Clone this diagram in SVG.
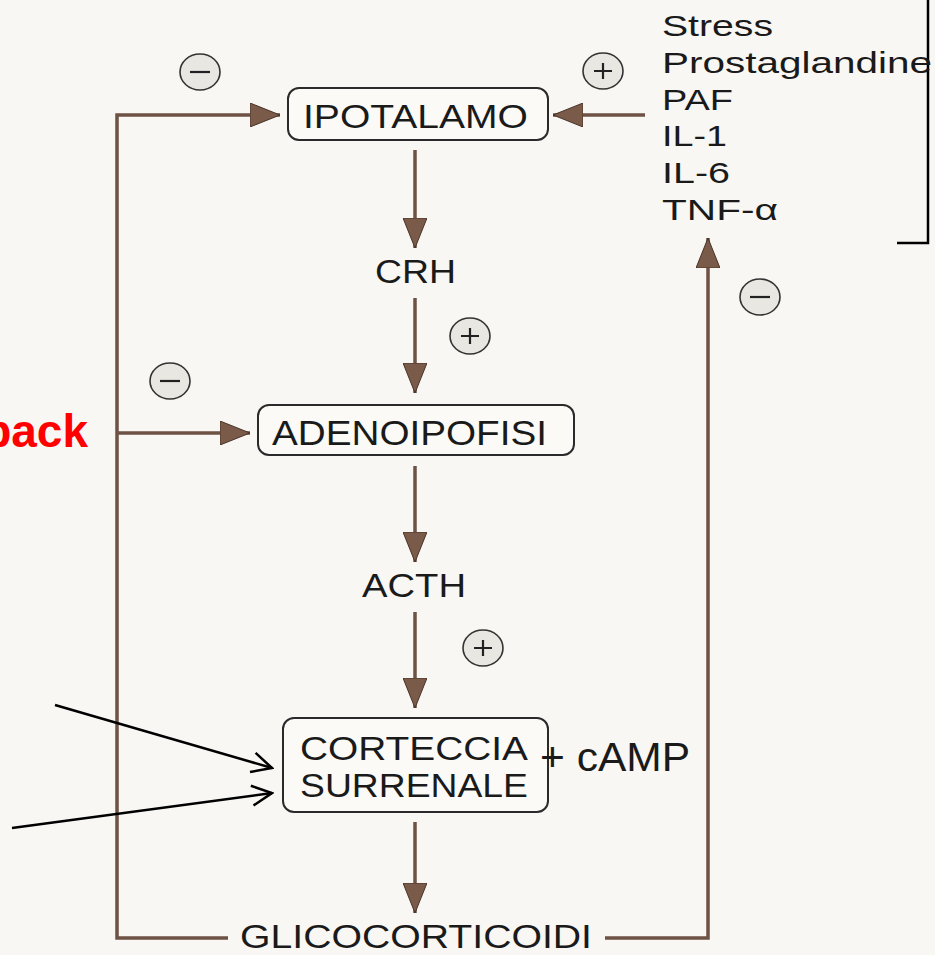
<svg xmlns="http://www.w3.org/2000/svg" width="935" height="955" viewBox="0 0 935 955">
<defs>
<style>
.lbl{font-family:"Liberation Sans",Arial,sans-serif;fill:#1a1a1a;}
.box{fill:#fbfaf7;stroke:#2a2a2a;stroke-width:2;}
.conn{stroke:#6e5244;stroke-width:3.5;fill:none;}
.blk{stroke:#000;stroke-width:2.5;fill:none;}
.sign circle,.sign ellipse{fill:#e9e7e1;stroke:#333;stroke-width:1.6;}
.sign path{stroke:#222;stroke-width:2.2;fill:none;}
</style>
<marker id="ah" viewBox="0 0 30 24" refX="30" refY="12" markerWidth="30" markerHeight="24" markerUnits="userSpaceOnUse" orient="auto">
<path d="M0,0 L30,12 L0,24 Z" fill="#7a5a48" stroke="#4a3328" stroke-width="1"/>
</marker>
<marker id="open" viewBox="0 0 24 24" refX="22" refY="12" markerWidth="24" markerHeight="24" markerUnits="userSpaceOnUse" orient="auto">
<path d="M2,2 L22,12 L2,22" fill="none" stroke="#000" stroke-width="2.5"/>
</marker>
</defs>
<rect width="935" height="955" fill="#f8f7f3"/>

<g id="connectors">
<!-- left feedback loop -->
<path class="conn" d="M228,938 L117,938 L117,115 L280,115" marker-end="url(#ah)"/>
<path class="conn" d="M117,433 L250,433" marker-end="url(#ah)"/>
<!-- right loop -->
<path class="conn" d="M605,938 L708,938 L708,238" marker-end="url(#ah)"/>
<path class="conn" d="M645,115 L553,115" marker-end="url(#ah)"/>
<!-- main chain -->
<path class="conn" d="M415,150 L415,248" marker-end="url(#ah)"/>
<path class="conn" d="M415,298 L415,393" marker-end="url(#ah)"/>
<path class="conn" d="M415,466 L415,562" marker-end="url(#ah)"/>
<path class="conn" d="M415,612 L415,708" marker-end="url(#ah)"/>
<path class="conn" d="M415,822 L415,913" marker-end="url(#ah)"/>
<!-- bracket -->
<path d="M928,0 L928,243 L897,243" stroke="#000" stroke-width="2.5" fill="none"/>
<!-- black overlay arrows -->
<path class="blk" d="M55,705 L272,768" marker-end="url(#open)"/>
<path class="blk" d="M12,828 L272,793" marker-end="url(#open)"/>
</g>

<g id="ipotalamo">
<rect class="box" x="288" y="88" width="260" height="52" rx="11"/>
<text class="lbl" x="303" y="128" font-size="34" textLength="225" lengthAdjust="spacingAndGlyphs">IPOTALAMO</text>
</g>

<g id="crh">
<text class="lbl" x="375" y="283" font-size="34" textLength="81" lengthAdjust="spacingAndGlyphs">CRH</text>
</g>

<g id="adenoipofisi">
<rect class="box" x="258" y="405" width="316" height="50" rx="11"/>
<text class="lbl" x="272" y="445" font-size="35" textLength="275" lengthAdjust="spacingAndGlyphs">ADENOIPOFISI</text>
</g>

<g id="acth">
<text class="lbl" x="362" y="597" font-size="34" textLength="104" lengthAdjust="spacingAndGlyphs">ACTH</text>
</g>

<g id="corteccia">
<rect class="box" x="283" y="718" width="265" height="94" rx="11"/>
<text class="lbl" x="300" y="760" font-size="34" textLength="228" lengthAdjust="spacingAndGlyphs">CORTECCIA</text>
<text class="lbl" x="300" y="797" font-size="34" textLength="228" lengthAdjust="spacingAndGlyphs">SURRENALE</text>
</g>

<g id="camp">
<text class="lbl" x="540" y="771" font-size="40" fill="#000" textLength="150" lengthAdjust="spacingAndGlyphs">+ cAMP</text>
</g>

<g id="glicocorticoidi">
<text class="lbl" x="240" y="948" font-size="33" textLength="352" lengthAdjust="spacingAndGlyphs">GLICOCORTICOIDI</text>
</g>

<g id="stimoli">
<text class="lbl" x="662" y="36" font-size="30" textLength="111" lengthAdjust="spacingAndGlyphs">Stress</text>
<text class="lbl" x="662" y="73" font-size="30" textLength="270" lengthAdjust="spacingAndGlyphs">Prostaglandine</text>
<text class="lbl" x="662" y="110" font-size="30" textLength="71" lengthAdjust="spacingAndGlyphs">PAF</text>
<text class="lbl" x="662" y="146" font-size="30" textLength="65" lengthAdjust="spacingAndGlyphs">IL-1</text>
<text class="lbl" x="662" y="183" font-size="30" textLength="68" lengthAdjust="spacingAndGlyphs">IL-6</text>
<text class="lbl" x="662" y="220" font-size="30" textLength="116" lengthAdjust="spacingAndGlyphs">TNF-α</text>
</g>

<g id="feedback">
<text x="88" y="447" font-family="Liberation Sans,Arial,sans-serif" font-size="46" font-weight="bold" fill="#ff0000" text-anchor="end">back</text>
</g>

<g id="signs" class="sign">
<g id="sign-minus-top"><ellipse cx="200" cy="72" rx="20" ry="18"/><path d="M190,72 H210"/></g>
<g id="sign-plus-top"><ellipse cx="603" cy="71" rx="20" ry="18"/><path d="M594,71 H612 M603,63 V79"/></g>
<g id="sign-plus-crh"><ellipse cx="470" cy="336" rx="20" ry="18"/><path d="M461,336 H479 M470,328 V344"/></g>
<g id="sign-minus-adeno"><ellipse cx="170" cy="381" rx="20" ry="18"/><path d="M160,381 H180"/></g>
<g id="sign-plus-acth"><ellipse cx="483" cy="648" rx="20" ry="18"/><path d="M474,648 H492 M483,640 V656"/></g>
<g id="sign-minus-right"><ellipse cx="760" cy="297" rx="20" ry="18"/><path d="M750,297 H770"/></g>
</g>
</svg>
